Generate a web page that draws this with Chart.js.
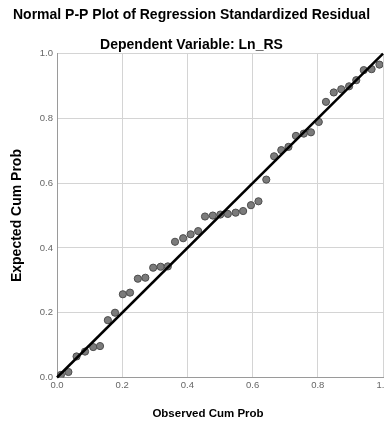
<!DOCTYPE html>
<html>
<head>
<meta charset="utf-8">
<script src="https://cdn.jsdelivr.net/npm/chart.js@4/dist/chart.umd.min.js"></script>
<style>
  html, body { margin: 0; padding: 0; background: #ffffff; overflow: hidden; width: 384px; height: 425px; }
  #wrap { width: 392px; height: 425px; }
</style>
</head>
<body>
<div id="wrap"><canvas id="c" width="392" height="425"></canvas></div>
<script>
const chartTitle = "Normal P-P Plot of Regression Standardized Residual";
const chartSubtitle = "Dependent Variable: Ln_RS";
const xAxisTitle = "Observed Cum Prob";
const yAxisTitle = "Expected Cum Prob";

// Observed cumulative probabilities
const observedCumProb = [
  0.012, 0.035, 0.060, 0.086, 0.111, 0.132, 0.156, 0.178, 0.202, 0.224,
  0.248, 0.271, 0.295, 0.318, 0.340, 0.362, 0.387, 0.410, 0.433, 0.454,
  0.478, 0.501, 0.524, 0.548, 0.571, 0.595, 0.618, 0.642, 0.666, 0.688,
  0.710, 0.733, 0.757, 0.779, 0.803, 0.825, 0.849, 0.872, 0.896, 0.918,
  0.941, 0.965, 0.989
];
// Expected cumulative probabilities
const expectedCumProb = [
  0.008, 0.017, 0.065, 0.080, 0.094, 0.097, 0.177, 0.200, 0.257, 0.262,
  0.305, 0.308, 0.339, 0.342, 0.343, 0.419, 0.430, 0.442, 0.452, 0.497,
  0.500, 0.503, 0.505, 0.509, 0.514, 0.532, 0.544, 0.611, 0.683, 0.702,
  0.712, 0.746, 0.753, 0.757, 0.789, 0.851, 0.880, 0.890, 0.899, 0.918,
  0.949, 0.952, 0.966
];
// Reference diagonal endpoints
const diagX = [0, 1];
const diagY = [0, 1];
const tickValues = [0.0, 0.2, 0.4, 0.6, 0.8, 1.0];

const points = observedCumProb.map((x, i) => ({ x: x, y: expectedCumProb[i] }));
const diag = diagX.map((x, i) => ({ x: x, y: diagY[i] }));

const xTitlePlugin = {
  id: 'xTitle',
  afterDraw(chart) {
    const ctx = chart.ctx;
    ctx.save();
    ctx.font = 'bold 11.5px "Liberation Sans", Arial, sans-serif';
    ctx.fillStyle = '#000000';
    ctx.textAlign = 'center';
    ctx.textBaseline = 'middle';
    ctx.fillText(xAxisTitle, 208, 414);
    ctx.restore();
  }
};

new Chart(document.getElementById('c'), {
  type: 'scatter',
  data: {
    datasets: [
      {
        label: 'Diagonal',
        data: diag,
        showLine: true,
        borderColor: '#000000',
        borderWidth: 2.5,
        pointRadius: 0,
        fill: false,
        clip: false
      },
      {
        label: 'Residuals',
        data: points,
        backgroundColor: '#7b7b7b',
        borderColor: '#4d4d4d',
        borderWidth: 1,
        pointRadius: 3.6
      }
    ]
  },
  options: {
    responsive: false,
    animation: false,
    layout: { padding: { left: 0, right: 9, top: 0, bottom: 0 } },
    plugins: {
      legend: { display: false },
      tooltip: { enabled: false },
      title: {
        display: true,
        text: chartTitle,
        color: '#000000',
        font: { family: '"Liberation Sans", Arial, sans-serif', size: 14, weight: 'bold' },
        padding: { top: 7, bottom: 13 }
      },
      subtitle: {
        display: true,
        text: chartSubtitle,
        color: '#000000',
        font: { family: '"Liberation Sans", Arial, sans-serif', size: 14, weight: 'bold' },
        padding: { top: 0, bottom: 0 }
      }
    },
    scales: {
      x: {
        type: 'linear',
        min: 0,
        max: 1,
        afterFit(scale) { scale.height = 47.5; },
        afterBuildTicks(scale) { scale.ticks = tickValues.map(v => ({ value: v })); },
        ticks: {
          color: '#666666',
          padding: 2,
          maxRotation: 0,
          font: { family: '"Liberation Sans", Arial, sans-serif', size: 9.5 },
          callback: (v) => v.toFixed(1)
        },
        grid: { color: '#d4d4d4', lineWidth: 1, drawTicks: false },
        border: { display: true, color: '#9a9a9a', width: 1 },
        title: { display: false }
      },
      y: {
        type: 'linear',
        min: 0,
        max: 1,
        afterFit(scale) { scale.width = 57; },
        afterBuildTicks(scale) { scale.ticks = tickValues.map(v => ({ value: v })); },
        ticks: {
          color: '#666666',
          padding: 4,
          font: { family: '"Liberation Sans", Arial, sans-serif', size: 9.5 },
          callback: (v) => v.toFixed(1)
        },
        grid: { color: '#d4d4d4', lineWidth: 1, drawTicks: false },
        border: { display: true, color: '#9a9a9a', width: 1 },
        title: {
          display: true,
          text: yAxisTitle,
          color: '#000000',
          font: { family: '"Liberation Sans", Arial, sans-serif', size: 14, weight: 'bold' },
          padding: { top: 8.5, bottom: 0 }
        }
      }
    }
  },
  plugins: [xTitlePlugin]
});
</script>
</body>
</html>
